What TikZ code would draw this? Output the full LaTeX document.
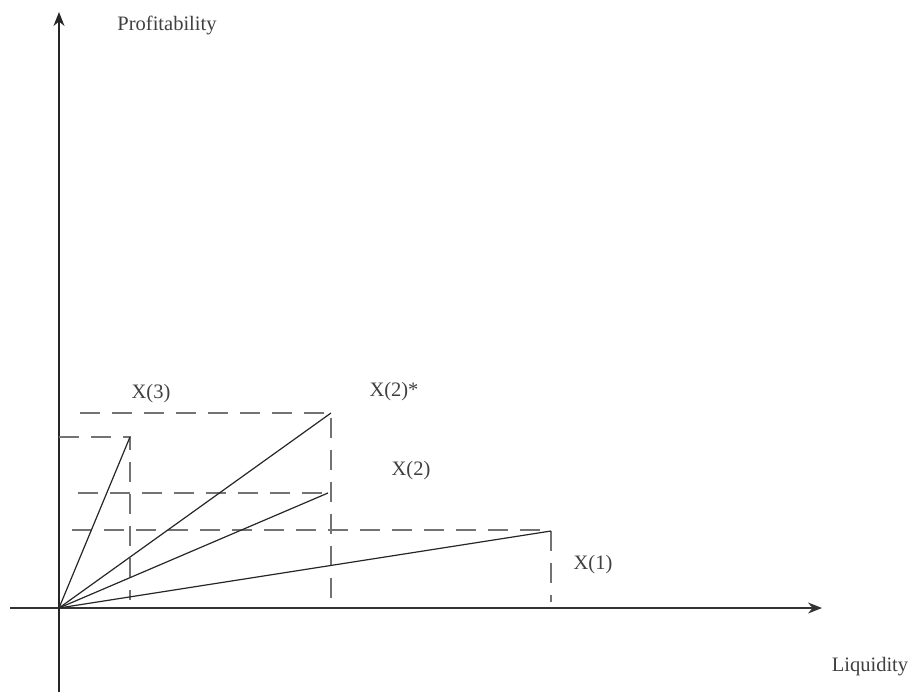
\documentclass[tikz,border=0pt]{standalone}
\usepackage{fontspec}
\setmainfont{Liberation Serif}
\usetikzlibrary{arrows.meta}
\tikzset{
  guide/.style={draw=black!55, line width=1.3pt, dash pattern=on 20pt off 12pt},
  ray/.style={draw=black!85, line width=1.2pt},
  lbl/.style={text=black!75, font=\fontsize{20.5}{22}\selectfont, inner sep=0pt}
}
\begin{document}
\begin{tikzpicture}[x=1pt, y=-1pt, >={Stealth[length=14pt,width=11pt]}]
  \useasboundingbox (0,0) rectangle (914,697);
  % origin and points
  \coordinate (O) at (59,608);
  \coordinate (P3) at (130,437);
  \coordinate (P2s) at (331,413);
  \coordinate (P2) at (328,493);
  \coordinate (P1) at (551,531);
  % axes
  \coordinate (xs) at (10,608);
  \coordinate (xe) at (822,608);
  \coordinate (ys) at (59,692);
  \coordinate (ye) at (59,12);
  \draw[->, line width=1.5pt, black!80] (xs) -- (xe);
  \draw[->, line width=1.5pt, black!85] (ys) -- (ye);
  \node[lbl] (prof) at (167,25) {Profitability};
  \node[lbl] (liq) at (870,667) {Liquidity};
  % dashed guides
  \draw[guide] (59,437) -- (P3) -- (130,600);
  \draw[guide] (80,413) -- (P2s) -- (331,607);
  \draw[guide] (78,493) -- (P2);
  \draw[guide] (72,530) -- (551,530) -- (551,602);
  % rays
  \draw[ray] (O) -- (P3);
  \draw[ray] (O) -- (P2s);
  \draw[ray] (O) -- (P2);
  \draw[ray] (O) -- (P1);
  % labels
  \node[lbl] (l3) at (151,394) {X(3)};
  \node[lbl] (l2s) at (394,392) {X(2)*};
  \node[lbl] (l2) at (411,471) {X(2)};
  \node[lbl] (l1) at (593,565) {X(1)};
\end{tikzpicture}
\end{document}
